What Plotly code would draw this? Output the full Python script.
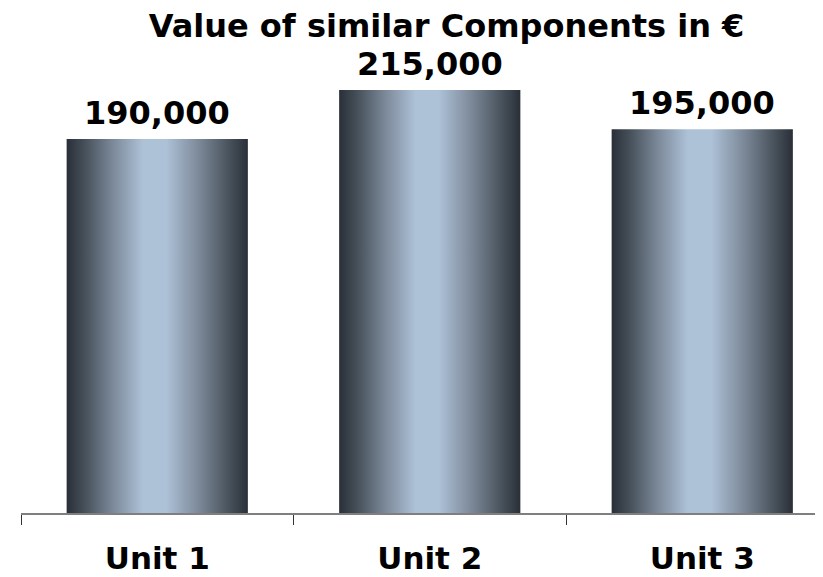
import plotly.graph_objects as go

categories = ["Unit 1", "Unit 2", "Unit 3"]
values = [190000, 215000, 195000]
value_labels = ["190,000", "215,000", "195,000"]
title_text = "Value of similar Components in €"

BAR_WIDTH = 0.665
FONT = dict(family="DejaVu Sans", color="#000000", weight="bold")

gradient = [
    [0.00, "#2a2f37"],
    [0.10, "#46505a"],
    [0.25, "#7a8797"],
    [0.42, "#adc1d7"],
    [0.55, "#adc1d7"],
    [0.72, "#7f8c9c"],
    [0.90, "#47515b"],
    [1.00, "#2a2f37"],
]

fig = go.Figure()
positions = list(range(len(categories)))
for pos, val in zip(positions, values):
    x0, x1 = pos - BAR_WIDTH / 2, pos + BAR_WIDTH / 2
    fig.add_trace(go.Scatter(
        x=[x0, x1, x1, x0, x0],
        y=[0, 0, val, val, 0],
        mode="lines",
        line=dict(width=0),
        fill="toself",
        fillgradient=dict(type="horizontal", colorscale=gradient),
        hoverinfo="skip",
        showlegend=False,
    ))

for pos, val, lab in zip(positions, values, value_labels):
    fig.add_annotation(
        x=pos, y=val, text=lab, showarrow=False,
        xanchor="center", yanchor="bottom", yshift=6, borderpad=0,
        font=dict(FONT, size=32),
    )

fig.update_layout(
    width=823, height=577,
    margin=dict(l=13, r=0, t=13, b=72, autoexpand=False),
    paper_bgcolor="white", plot_bgcolor="white",
    title=dict(
        text=title_text, x=438.5 / 823, xanchor="center",
        y=1 - 7 / 577, yanchor="top",
        font=dict(FONT, size=32),
    ),
    showlegend=False,
)

fig.update_xaxes(
    range=[-0.5, -0.5 + 810 / 272.5],
    automargin=False,
    tickmode="array", tickvals=positions, ticktext=categories,
    ticks="", showgrid=False, zeroline=False,
    showline=True, linecolor="#7f7f7f", linewidth=2,
    tickfont=dict(FONT, size=31),
    ticklabelstandoff=17,
    minor=dict(tickmode="linear", tick0=-0.5, dtick=1, ticks="outside",
               ticklen=10, tickwidth=1, tickcolor="#333333", showgrid=False),
)
fig.update_yaxes(
    range=[0, 250000], visible=False, showgrid=False, zeroline=False,
    automargin=False,
)

fig.write_html("out.html")
